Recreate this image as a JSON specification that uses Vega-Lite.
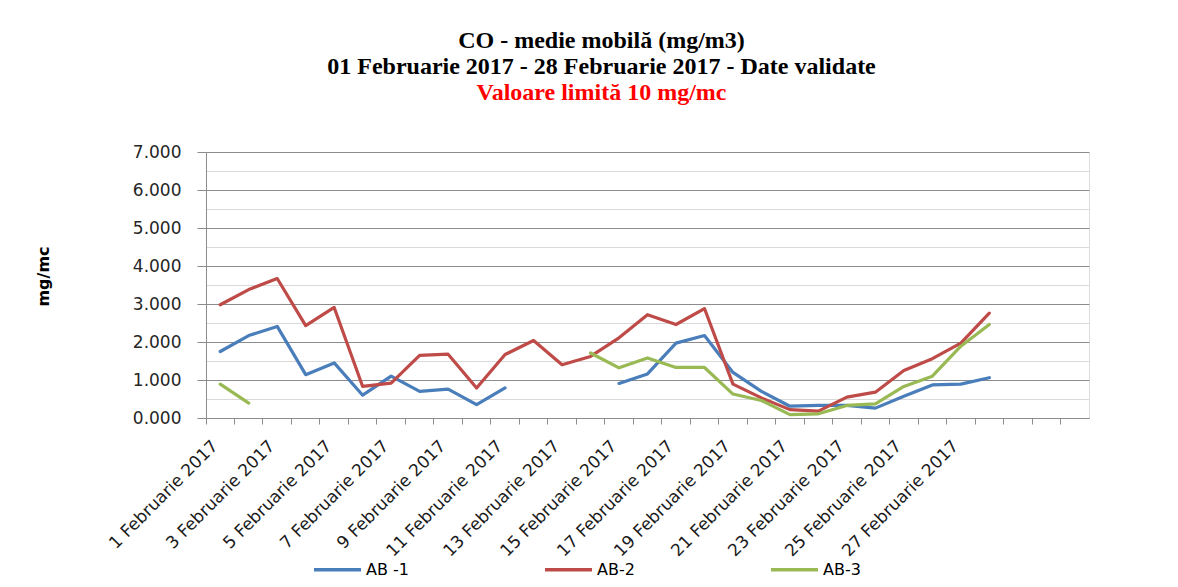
{
  "$schema": "https://vega.github.io/schema/vega-lite/v6.json",
  "width": 883,
  "height": 266,
  "autosize": {"type": "none"},
  "padding": {"left": 206, "top": 152, "right": 89, "bottom": 169},
  "background": "white",
  "title": {
    "text": ["CO - medie mobilă (mg/m3)", "01 Februarie 2017 -  28 Februarie 2017 - Date validate"],
    "subtitle": "Valoare limită 10 mg/mc",
    "font": "Liberation Serif",
    "fontSize": 24,
    "fontWeight": "bold",
    "color": "#000000",
    "lineHeight": 26,
    "subtitleFont": "Liberation Serif",
    "subtitleFontSize": 24,
    "subtitleFontWeight": "bold",
    "subtitleColor": "#ff0000",
    "subtitleLineHeight": 26,
    "subtitlePadding": 2,
    "anchor": "middle",
    "dx": -46,
    "offset": 38
  },
  "data": {
    "values": [
      {"d": 1, "s": "AB -1", "v": 1.75}, {"d": 2, "s": "AB -1", "v": 2.17}, {"d": 3, "s": "AB -1", "v": 2.41},
      {"d": 4, "s": "AB -1", "v": 1.14}, {"d": 5, "s": "AB -1", "v": 1.45}, {"d": 6, "s": "AB -1", "v": 0.60},
      {"d": 7, "s": "AB -1", "v": 1.10}, {"d": 8, "s": "AB -1", "v": 0.70}, {"d": 9, "s": "AB -1", "v": 0.76},
      {"d": 10, "s": "AB -1", "v": 0.35}, {"d": 11, "s": "AB -1", "v": 0.79}, {"d": 12, "s": "AB -1", "v": null},
      {"d": 13, "s": "AB -1", "v": null}, {"d": 14, "s": "AB -1", "v": null}, {"d": 15, "s": "AB -1", "v": 0.91},
      {"d": 16, "s": "AB -1", "v": 1.16}, {"d": 17, "s": "AB -1", "v": 1.97}, {"d": 18, "s": "AB -1", "v": 2.17},
      {"d": 19, "s": "AB -1", "v": 1.20}, {"d": 20, "s": "AB -1", "v": 0.70}, {"d": 21, "s": "AB -1", "v": 0.31},
      {"d": 22, "s": "AB -1", "v": 0.33}, {"d": 23, "s": "AB -1", "v": 0.33}, {"d": 24, "s": "AB -1", "v": 0.26},
      {"d": 25, "s": "AB -1", "v": 0.57}, {"d": 26, "s": "AB -1", "v": 0.87}, {"d": 27, "s": "AB -1", "v": 0.89},
      {"d": 28, "s": "AB -1", "v": 1.06},
      {"d": 1, "s": "AB-2", "v": 2.98}, {"d": 2, "s": "AB-2", "v": 3.38}, {"d": 3, "s": "AB-2", "v": 3.67},
      {"d": 4, "s": "AB-2", "v": 2.43}, {"d": 5, "s": "AB-2", "v": 2.91}, {"d": 6, "s": "AB-2", "v": 0.83},
      {"d": 7, "s": "AB-2", "v": 0.92}, {"d": 8, "s": "AB-2", "v": 1.65}, {"d": 9, "s": "AB-2", "v": 1.68},
      {"d": 10, "s": "AB-2", "v": 0.79}, {"d": 11, "s": "AB-2", "v": 1.67}, {"d": 12, "s": "AB-2", "v": 2.04},
      {"d": 13, "s": "AB-2", "v": 1.40}, {"d": 14, "s": "AB-2", "v": 1.62}, {"d": 15, "s": "AB-2", "v": 2.11},
      {"d": 16, "s": "AB-2", "v": 2.72}, {"d": 17, "s": "AB-2", "v": 2.46}, {"d": 18, "s": "AB-2", "v": 2.88},
      {"d": 19, "s": "AB-2", "v": 0.89}, {"d": 20, "s": "AB-2", "v": 0.53}, {"d": 21, "s": "AB-2", "v": 0.22},
      {"d": 22, "s": "AB-2", "v": 0.18}, {"d": 23, "s": "AB-2", "v": 0.55}, {"d": 24, "s": "AB-2", "v": 0.68},
      {"d": 25, "s": "AB-2", "v": 1.25}, {"d": 26, "s": "AB-2", "v": 1.56}, {"d": 27, "s": "AB-2", "v": 1.97},
      {"d": 28, "s": "AB-2", "v": 2.76},
      {"d": 1, "s": "AB-3", "v": 0.89}, {"d": 2, "s": "AB-3", "v": 0.39}, {"d": 3, "s": "AB-3", "v": null},
      {"d": 4, "s": "AB-3", "v": null}, {"d": 5, "s": "AB-3", "v": null}, {"d": 6, "s": "AB-3", "v": null},
      {"d": 7, "s": "AB-3", "v": null}, {"d": 8, "s": "AB-3", "v": null}, {"d": 9, "s": "AB-3", "v": null},
      {"d": 10, "s": "AB-3", "v": null}, {"d": 11, "s": "AB-3", "v": null}, {"d": 12, "s": "AB-3", "v": null},
      {"d": 13, "s": "AB-3", "v": null}, {"d": 14, "s": "AB-3", "v": 1.71}, {"d": 15, "s": "AB-3", "v": 1.32},
      {"d": 16, "s": "AB-3", "v": 1.58}, {"d": 17, "s": "AB-3", "v": 1.33}, {"d": 18, "s": "AB-3", "v": 1.33},
      {"d": 19, "s": "AB-3", "v": 0.63}, {"d": 20, "s": "AB-3", "v": 0.46}, {"d": 21, "s": "AB-3", "v": 0.09},
      {"d": 22, "s": "AB-3", "v": 0.11}, {"d": 23, "s": "AB-3", "v": 0.33}, {"d": 24, "s": "AB-3", "v": 0.37},
      {"d": 25, "s": "AB-3", "v": 0.83}, {"d": 26, "s": "AB-3", "v": 1.10}, {"d": 27, "s": "AB-3", "v": 1.89},
      {"d": 28, "s": "AB-3", "v": 2.46}
    ]
  },
  "mark": {"type": "line", "strokeWidth": 3.2, "strokeJoin": "round", "strokeCap": "round", "invalid": "break-paths-show-domains"},
  "encoding": {
    "x": {
      "field": "d",
      "type": "ordinal",
      "bandPosition": 0.5,
      "scale": {"type": "band", "domain": [1,2,3,4,5,6,7,8,9,10,11,12,13,14,15,16,17,18,19,20,21,22,23,24,25,26,27,28,29,30,31], "paddingInner": 0, "paddingOuter": 0},
      "axis": {
        "title": null,
        "grid": false,
        "bandPosition": 0,
        "labelExpr": "datum.value <= 28 && datum.value % 2 == 1 ? datum.value + ' Februarie 2017' : ''",
        "labelAngle": -45,
        "labelAlign": "right",
        "labelBaseline": "middle",
        "labelFont": "DejaVu Sans",
        "labelFontSize": 17,
        "labelColor": "#1a1a1a",
        "labelOffset": -5,
        "labelPadding": 19,
        "labelOverlap": false,
        "labelBound": false,
        "labelFlush": false,
        "tickSize": 6,
        "tickColor": "#8c8c8c",
        "domainColor": "#8c8c8c"
      }
    },
    "y": {
      "field": "v",
      "type": "quantitative",
      "scale": {"domain": [0, 7], "nice": false},
      "axis": {
        "title": "mg/mc",
        "values": [0, 0.5, 1, 1.5, 2, 2.5, 3, 3.5, 4, 4.5, 5, 5.5, 6, 6.5, 7],
        "labelExpr": "datum.value % 1 === 0 ? format(datum.value, '.3f') : ''",
        "grid": true,
        "gridColor": {"condition": {"test": "datum.value % 1 !== 0", "value": "#d9d9d9"}, "value": "#8c8c8c"},
        "gridWidth": 1.2,
        "tickSize": 9,
        "tickColor": "#8c8c8c",
        "tickOpacity": {"condition": {"test": "datum.value % 1 !== 0", "value": 0}, "value": 1},
        "labelFont": "DejaVu Sans",
        "labelFontSize": 17,
        "labelColor": "#262626",
        "labelPadding": 16,
        "domainColor": "#8c8c8c",
        "titleFont": "DejaVu Sans",
        "titleFontSize": 16,
        "titleFontWeight": "bold",
        "titleColor": "#000000",
        "titleAngle": -90,
        "titleAlign": "center",
        "titleBaseline": "middle",
        "titleX": -163,
        "titleY": 124
      }
    },
    "color": {
      "field": "s",
      "type": "nominal",
      "scale": {"domain": ["AB -1", "AB-2", "AB-3"], "range": ["#4a7ebb", "#be4b48", "#98b954"]},
      "legend": {
        "title": null,
        "orient": "none",
        "legendX": 106,
        "legendY": 392,
        "direction": "horizontal",
        "columns": 3,
        "symbolType": "stroke",
        "symbolSize": 2209,
        "symbolStrokeWidth": 3.5,
        "labelFont": "DejaVu Sans",
        "labelFontSize": 16,
        "labelColor": "#000000",
        "labelOffset": 3,
        "columnPadding": 129,
        "padding": 0
      }
    }
  }
}
